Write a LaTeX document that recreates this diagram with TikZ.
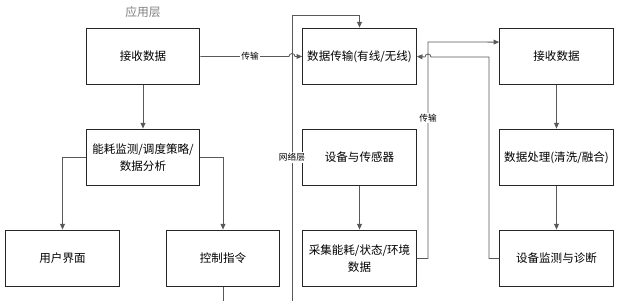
\documentclass[tikz,border=0pt]{standalone}
\usepackage{fontspec}
\setmainfont{Noto Sans CJK SC}
\usepackage{tikz}
\usetikzlibrary{arrows.meta,positioning,calc}
\usepackage{xcolor}

\begin{document}
\begin{tikzpicture}[x=0.025cm, y=-0.025cm,
  box/.style={draw=black!85, line width=0.7pt, minimum width=2.84cm, minimum height=1.42cm,
              align=center, font=\fontsize{8.2}{12.5}\selectfont, inner sep=2pt},
  lbl/.style={font=\fontsize{6.2}{7}\selectfont, fill=white, inner sep=1pt},
  ar/.style={-{Triangle[length=1.4mm,width=1.2mm]}, draw=black!65, line width=0.6pt},
  ln/.style={draw=black!65, line width=0.6pt},
]
  \useasboundingbox (0,0) rectangle (620,301);
  % application layer
  \node[font=\fontsize{8.4}{10}\selectfont, text=black!50] (applayer) at (143,12) {应用层};
  \node[box] (recvA) at (143,56.5) {接收数据};
  \node[box] (analysis) at (143,157.5) {能耗监测/调度策略/\\数据分析};
  \node[box] (ui) at (62.5,258.5) {用户界面};
  \node[box] (ctrl) at (223,258.5) {控制指令};
  \draw[ar] (recvA) -- (analysis);
  \draw[ar] (analysis.west) -| (ui.north);
  \draw[ar] (analysis.east) -| (ctrl.north);
  % network layer
  \node[box] (trans) at (359.5,56.5) {数据传输(有线/无线)};
  \node[box] (dev) at (359.5,157.5) {设备与传感器};
  \node[box] (collect) at (359.5,258.5) {采集能耗/状态/环境\\数据};
  \draw[ar] (dev) -- (collect);
  % right column
  \node[box] (recvB) at (556.5,56.5) {接收数据};
  \node[box] (proc) at (556.5,157.5) {数据处理(清洗/融合)};
  \node[box] (diag) at (556.5,258.5) {设备监测与诊断};
  \draw[ar] (recvB) -- (proc);
  \draw[ar] (proc) -- (diag);
  % links between columns
  \coordinate (ctrlend) at (223,301);
  \coordinate (netend) at (292,301);
  \draw[ln] (ctrl.south) -- (ctrlend);
  \draw[ar] (netend) -- (292,15) -| (trans.north);
  \node[lbl] (netlayer) at (292,157.5) {网络层};
  \draw[ar] (recvA.east) -- (289,56.5) arc[start angle=180, end angle=0, radius=0.075cm] -- (trans.west);
  \node[lbl] (sendA) at (250,56.5) {传输};
  \draw[ar] (collect.east) -- (428,258.5) -- (428,42) -- ([yshift=3.6mm]recvB.west);
  \node[lbl] (sendB) at (428,118) {传输};
  \draw[ar] (diag.west) -- (489,258.5) -- (489,57) -- (431,57) arc[start angle=0, end angle=180, radius=0.075cm] -- (trans.east);
\end{tikzpicture}
\end{document}
